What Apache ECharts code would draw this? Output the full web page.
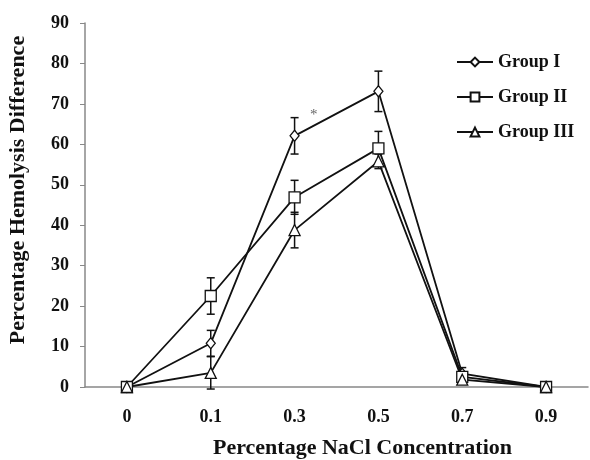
<!DOCTYPE html>
<html>
<head>
<meta charset="utf-8">
<script src="https://cdn.jsdelivr.net/npm/echarts@6/dist/echarts.min.js"></script>
<style>
  html, body { margin: 0; padding: 0; background: #fff; }
  #chart { width: 590px; height: 460px; }
</style>
</head>
<body>
<div id="chart"></div>
<script>
// data
var categories = ['0', '0.1', '0.3', '0.5', '0.7', '0.9'];
var groupI   = [0, 10.8, 62.1, 73.1, 3.3, 0];
var groupII  = [0, 22.5, 46.9, 59.0, 2.5, 0];
var groupIII = [0, 3.5, 38.8, 55.8, 1.8, 0];
var errI   = [0, 3.2, 4.5, 5.0, 1.5, 0];
var errII  = [0, 4.5, 4.2, 4.2, 1.0, 0];
var errIII = [0, 4.0, 4.4, 1.8, 1.0, 0];

var font = 'Liberation Serif';
var mychart = echarts.init(document.getElementById('chart'));

function errData(vals, errs) {
    var out = [];
    for (var i = 0; i < vals.length; i++) {
        if (errs[i] > 0) out.push([i, vals[i] - errs[i], vals[i] + errs[i]]);
    }
    return out;
}

function renderErr(params, api) {
    var lo = api.coord([api.value(0), api.value(1)]);
    var hi = api.coord([api.value(0), api.value(2)]);
    var w = 4;
    var st = { stroke: '#111', lineWidth: 1.5 };
    return {
        type: 'group',
        children: [
            { type: 'line', shape: { x1: hi[0], y1: hi[1], x2: lo[0], y2: lo[1] }, style: st },
            { type: 'line', shape: { x1: hi[0] - w, y1: hi[1], x2: hi[0] + w, y2: hi[1] }, style: st },
            { type: 'line', shape: { x1: lo[0] - w, y1: lo[1], x2: lo[0] + w, y2: lo[1] }, style: st }
        ]
    };
}

function lineSeries(name, data, symbol, size) {
    return {
        name: name,
        type: 'line',
        data: data,
        symbol: symbol,
        symbolSize: size,
        z: 3,
        lineStyle: { color: '#111', width: 1.8 },
        itemStyle: { color: '#fff', borderColor: '#111', borderWidth: 1.3 },
        emphasis: { disabled: true }
    };
}

function errSeries(vals, errs) {
    return {
        type: 'custom',
        renderItem: renderErr,
        data: errData(vals, errs),
        z: 2,
        silent: true
    };
}

option = {
    animation: false,
    grid: { left: 85, right: 2, top: 23, bottom: 73, outerBoundsMode: 'none' },
    legend: {
        orient: 'vertical',
        left: 451,
        top: 48,
        itemWidth: 36,
        itemHeight: 11,
        itemGap: 17,
        textStyle: { fontFamily: font, fontWeight: 'bold', fontSize: 18, color: '#111' },
        data: ['Group I', 'Group II', 'Group III']
    },
    xAxis: {
        type: 'category',
        data: categories,
        name: 'Percentage NaCl Concentration',
        nameLocation: 'middle',
        nameGap: 50,
        nameTextStyle: { fontFamily: font, fontWeight: 'bold', fontSize: 22, color: '#111', padding: [0, 0, 0, 52] },
        axisLine: { lineStyle: { color: '#888', width: 1.5 } },
        axisTick: { length: 5, lineStyle: { color: '#888' } },
        axisLabel: { margin: 21, fontFamily: font, fontWeight: 'bold', fontSize: 18, color: '#111' }
    },
    yAxis: {
        type: 'value',
        min: 0,
        max: 90,
        interval: 10,
        name: 'Percentage Hemolysis Difference',
        nameLocation: 'middle',
        nameGap: 56,
        nameTextStyle: { fontFamily: font, fontWeight: 'bold', fontSize: 22, color: '#111', padding: [0, 0, 0, 30] },
        axisLine: { show: true, lineStyle: { color: '#888', width: 1.5 } },
        axisTick: { show: true, length: 5, lineStyle: { color: '#888' } },
        splitLine: { show: false },
        axisLabel: { margin: 16, fontFamily: font, fontWeight: 'bold', fontSize: 18, color: '#111' }
    },
    graphic: [
        { type: 'text', left: 310, top: 108, style: { text: '*', fontSize: 15, fill: '#666', fontFamily: font } }
    ],
    series: [
        errSeries(groupI, errI),
        errSeries(groupII, errII),
        errSeries(groupIII, errIII),
        lineSeries('Group I', groupI, 'diamond', [9, 11]),
        lineSeries('Group II', groupII, 'rect', 11),
        lineSeries('Group III', groupIII, 'triangle', 11)
    ]
};

mychart.setOption(option);
</script>
</body>
</html>
